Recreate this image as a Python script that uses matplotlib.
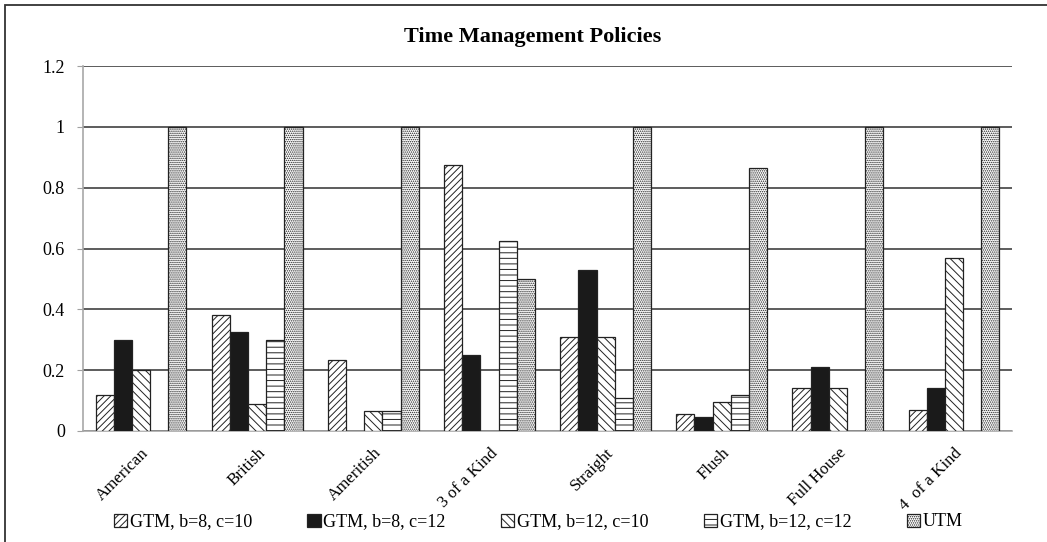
"""
Time Management Policies - grouped bar chart
"""

import numpy as np
import matplotlib.pyplot as plt
from matplotlib.patches import Rectangle

plt.rcParams['font.family'] = ['Liberation Serif', 'DejaVu Serif']
plt.rcParams['hatch.linewidth'] = 0.7

# data
categories = ["American", "British", "Ameritish", "3 of a Kind",
              "Straight", "Flush", "Full House", "4  of a Kind"]
series_names = ["GTM, b=8, c=10", "GTM, b=8, c=12", "GTM, b=12, c=10",
                "GTM, b=12, c=12", "UTM"]
gtm_b8_c10 = [0.12, 0.38, 0.235, 0.875, 0.31, 0.055, 0.14, 0.07]
gtm_b8_c12 = [0.30, 0.325, 0.0, 0.25, 0.53, 0.045, 0.21, 0.14]
gtm_b12_c10 = [0.20, 0.09, 0.065, 0.0, 0.31, 0.095, 0.14, 0.57]
gtm_b12_c12 = [0.0, 0.30, 0.065, 0.625, 0.11, 0.12, 0.0, 0.0]
utm = [1.0, 1.0, 1.0, 0.5, 1.0, 0.865, 1.0, 1.0]
yticks = [0, 0.2, 0.4, 0.6, 0.8, 1, 1.2]
yticklabels = ["0", "0.2", "0.4", "0.6", "0.8", "1", "1.2"]

series = [gtm_b8_c10, gtm_b8_c12, gtm_b12_c10, gtm_b12_c12, utm]
styles = [dict(facecolor="white", hatch="/////"),
          dict(facecolor="#1a1a1a", hatch=None),
          dict(facecolor="white", hatch="\\\\\\\\"),
          dict(facecolor="white", hatch="---"),
          dict(facecolor="white", hatch="........")]

fig = plt.figure(figsize=(10.47, 5.42), dpi=100)
ax = fig.add_axes([0.0793, 0.2048, 0.8873, 0.6734])

x = np.arange(len(categories))
n = len(series)
width = 1 / (n + 1.4)
for i, (vals, name, st) in enumerate(zip(series, series_names, styles)):
    ax.bar(x + (i - (n - 1) / 2) * width, vals, width, label=name,
           edgecolor="#222222", linewidth=0.9, zorder=3, **st)

# formatting
ax.set_xlim(-0.5, len(categories) - 0.5)
ax.set_ylim(0, 1.2)
ax.set_yticks(yticks)
ax.set_yticklabels(yticklabels, fontsize=13)
ax.set_xticks(x)
ax.set_xticklabels(categories, rotation=45, ha="right", va="top",
                   rotation_mode="anchor", fontsize=12.2)
ax.tick_params(axis="x", length=0, pad=10)
ax.tick_params(axis="y", length=4, color="#a0a0a0", pad=9)
ax.yaxis.grid(True, color="#303030", linewidth=1.1, zorder=0)
ax.set_axisbelow(True)
for s in ["top", "right"]:
    ax.spines[s].set_visible(False)
for s in ["left", "bottom"]:
    ax.spines[s].set_color("#a8a8a8")
    ax.spines[s].set_linewidth(1.2)

fig.text(0.509, 0.931, "Time Management Policies", ha="center", va="center",
         fontsize=16, fontweight="bold")

leg = fig.legend(loc="center", bbox_to_anchor=(0.514, 0.037), ncol=5,
                 frameon=False, fontsize=13, handlelength=0.75,
                 handleheight=0.75, handletextpad=0.15, columnspacing=3.05)

# outer frame
fig.patches.append(Rectangle((5 / 1047, -0.1), 1.2, 1.1 - 5 / 542,
                             transform=fig.transFigure, fill=False,
                             edgecolor="#333333", linewidth=1.3))

plt.savefig("out.png", dpi=100)
